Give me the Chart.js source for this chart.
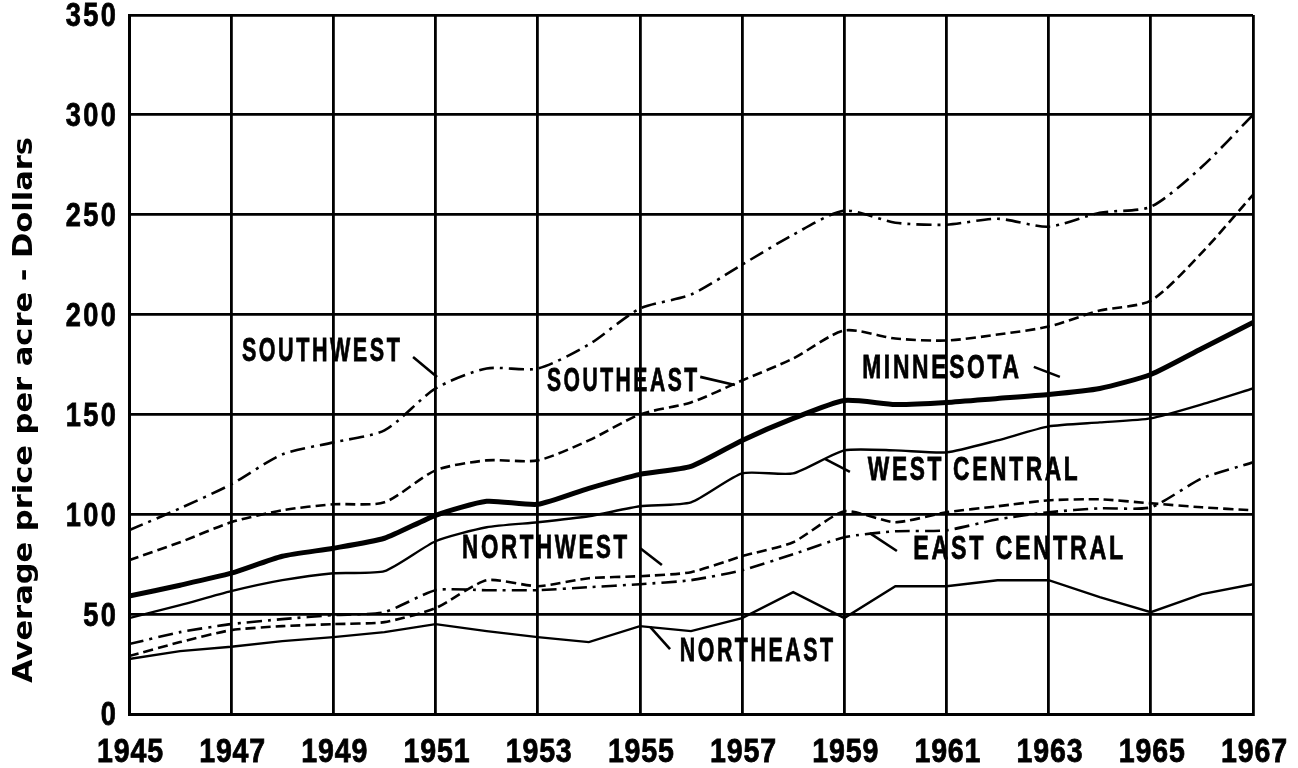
<!DOCTYPE html>
<html><head><meta charset="utf-8">
<script src="https://cdn.jsdelivr.net/npm/chart.js@4.4.1/dist/chart.umd.min.js"></script>
<style>html,body{margin:0;padding:0;background:#fff;}canvas{display:block;}</style>
</head><body>
<canvas id="c" width="1298" height="768"></canvas>
<script>
// ---- data ----
const years = [1945,1946,1947,1948,1949,1950,1951,1952,1953,1954,1955,1956,1957,1958,1959,1960,1961,1962,1963,1964,1965,1966,1967];
const southwest   = [92,103,115,130,136,142,163,173,173,185,203,210,225,240,252,246,245,248,244,251,254,274,300];
const southeast   = [77,86,96,102,105,106,122,127,127,137,150,156,167,178,192,188,187,190,194,202,207,231,260];
const minnesota   = [59,64.5,70.5,79,83,88,99.5,106.5,105,113,120,124,137,148,157,155,156,158,160,163,170,183,196];
const westCentral = [48,54.5,61.5,67,70.5,71.5,86.5,93.5,96,99,104,106,120.5,120.5,132,132,131,137,144,146,148,155,163];
const northwest   = [29,36,42,44,45,46,53,67,64,68,69,71,79,86,101.5,96,101,104,107,107.5,105.5,103.5,102];
const eastCentral = [35,41,45,47.5,49.5,51,62,62,62,63.5,65,67,72,80,88.5,91.5,92,97.5,101,103,103.5,118,126];
const northeast   = [27.5,31.5,33.7,36.5,38.5,41,45,41.5,38.5,36,44,41.5,48,61,48,64,64,67,67,58.5,51,60,65];
const xTickLabels = ['1945','1947','1949','1951','1953','1955','1957','1959','1961','1963','1965','1967'];
const yTickLabels = ['0','50','100','150','200','250','300','350'];
const seriesNames = ['SOUTHWEST','SOUTHEAST','MINNESOTA','WEST CENTRAL','NORTHWEST','EAST CENTRAL','NORTHEAST'];
const yTitle = 'Average price per acre - Dollars';

// ---- label placement (data units) ----
const labelPlacement = [
  {x0:1947.21, x1:1950.30, y:181.8, lead:[[1950.56,178.8],[1951.03,168.8]]},
  {x0:1953.18, x1:1956.12, y:166.7, lead:[[1956.18,168.8],[1956.86,164.7]]},
  {x0:1959.35, x1:1962.42, y:173.3, lead:[[1962.71,173.8],[1963.22,168.8]]},
  {x0:1959.46, x1:1963.57, y:122.2, lead:[[1958.62,127.7],[1959.11,121.2]]},
  {x0:1951.52, x1:1954.75, y:83.1,  lead:[[1955.00,83.1],[1955.43,74.6]]},
  {x0:1960.35, x1:1964.46, y:82.6,  lead:[[1959.50,90.6],[1960.03,81.6]]},
  {x0:1955.78, x1:1958.78, y:31.5,  lead:[[1955.20,43.6],[1955.59,32.5]]}
];

const LABEL_FONT = 'bold 34px "Liberation Sans", Arial, sans-serif';
const pts = arr => arr.map((v,i) => ({x: years[i], y: v}));
const DASHDOT = [15,6,3,6];
const DASH = [10,5];

const mkSet = (label, arr, width, dash, tension) => ({
  label, data: pts(arr), borderColor:'#000', backgroundColor:'#000',
  borderWidth: width, borderDash: dash, tension: tension, pointRadius: 0, fill:false
});

function squeezedText(ctx, text, x, y, sx, align, spacing) {
  ctx.save();
  ctx.letterSpacing = spacing + 'px';
  const w = (ctx.measureText(text).width - spacing) * sx;
  let left = x;
  if (align === 'center') left = x - w / 2;
  else if (align === 'right') left = x - w;
  ctx.translate(left, y);
  ctx.scale(sx, 1);
  ctx.fillText(text, 0, 0);
  ctx.strokeText(text, 0, 0);
  ctx.restore();
}

const decor = {
  id:'decor',
  afterDraw(chart){
    const ctx = chart.ctx, xs = chart.scales.x, ys = chart.scales.y;
    ctx.save();
    ctx.fillStyle = '#000'; ctx.strokeStyle = '#000';
    ctx.font = LABEL_FONT;
    ctx.lineWidth = 0.8;
    ctx.textAlign = 'left';
    // tick labels at the scales' own tick positions
    ctx.textBaseline = 'alphabetic';
    xs.ticks.forEach(t => {
      const lab = t.label || String(t.value);
      squeezedText(ctx, lab, xs.getPixelForValue(t.value) + 1, 762, 0.84, 'center', 1);
    });
    ctx.textBaseline = 'middle';
    ys.ticks.forEach(t => {
      const lab = t.label || String(t.value);
      squeezedText(ctx, lab, 116, ys.getPixelForValue(t.value) + 2, 0.80, 'right', 3);
    });
    // series labels and leaders
    seriesNames.forEach((name, i) => {
      const p = labelPlacement[i];
      const px0 = xs.getPixelForValue(p.x0), px1 = xs.getPixelForValue(p.x1), py = ys.getPixelForValue(p.y);
      ctx.save();
      ctx.letterSpacing = '4px';
      const w = ctx.measureText(name).width - 4;
      ctx.restore();
      squeezedText(ctx, name, px0, py + 1, (px1 - px0) / w, 'left', 4);
      ctx.beginPath(); ctx.lineWidth = 2.6; ctx.setLineDash([]);
      ctx.moveTo(xs.getPixelForValue(p.lead[0][0]), ys.getPixelForValue(p.lead[0][1]));
      ctx.lineTo(xs.getPixelForValue(p.lead[1][0]), ys.getPixelForValue(p.lead[1][1]));
      ctx.stroke();
      ctx.lineWidth = 0.8;
    });
    // y axis title
    ctx.font = 'bold 27px "DejaVu Sans", sans-serif';
    ctx.textAlign = 'center'; ctx.textBaseline = 'alphabetic';
    const tw = ctx.measureText(yTitle).width;
    ctx.translate(32, 410);
    ctx.rotate(-Math.PI/2);
    ctx.scale(546 / tw, 1);
    ctx.fillText(yTitle, 0, 0);
    ctx.restore();
  }
};

new Chart(document.getElementById('c'), {
  type: 'line',
  data: {
    datasets: [
      mkSet('Southwest', southwest, 2.6, DASHDOT, 0.25),
      mkSet('Southeast', southeast, 2.6, DASH, 0.25),
      mkSet('Minnesota', minnesota, 5, [], 0.2),
      mkSet('West Central', westCentral, 2.4, [], 0.2),
      mkSet('Northwest', northwest, 2.6, DASH, 0.2),
      mkSet('East Central', eastCentral, 2.6, DASHDOT, 0.2),
      mkSet('Northeast', northeast, 2.4, [], 0)
    ]
  },
  options: {
    responsive: false, animation: false, devicePixelRatio: 1,
    layout: {padding: {top: 15, right: 45, left: 0, bottom: 0}},
    plugins: {legend: {display: false}, tooltip: {enabled: false}},
    scales: {
      x: {
        type: 'linear', min: 1945, max: 1967,
        ticks: {display: false, stepSize: 2, autoSkip: false, maxRotation: 0,
                callback: (v) => xTickLabels[xTickLabels.indexOf(String(v))] || ''},
        grid: {color: '#000', lineWidth: 2.8, drawTicks: false},
        border: {color: '#000', width: 3},
        afterFit: (s) => { s.height = 54; }
      },
      y: {
        min: 0, max: 350,
        ticks: {display: false, stepSize: 50,
                callback: (v) => yTickLabels[yTickLabels.indexOf(String(v))] || ''},
        grid: {color: '#000', lineWidth: 2.8, drawTicks: false},
        border: {color: '#000', width: 3},
        afterFit: (s) => { s.width = 129; }
      }
    }
  },
  plugins: [decor]
});
</script>
</body></html>
